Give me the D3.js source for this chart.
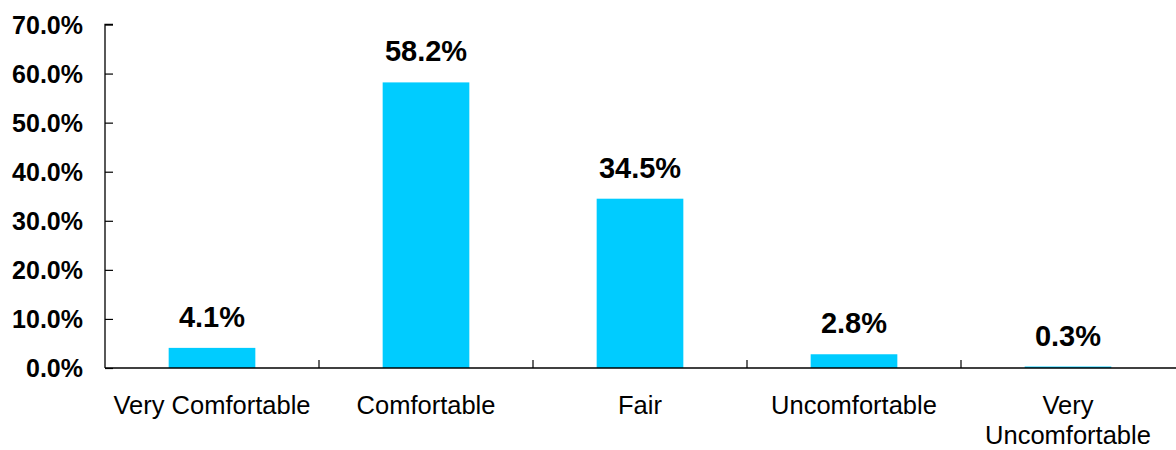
<!DOCTYPE html>
<html>
<head>
<meta charset="utf-8">
<script src="https://cdn.jsdelivr.net/npm/d3@7"></script>
<style>
  html, body { margin: 0; padding: 0; background: #fff; }
  svg { display: block; font-family: "Liberation Sans", Arial, Helvetica, sans-serif; }
</style>
</head>
<body>
<svg id="chart" width="1176" height="450"></svg>
<script>
const categories = ["Very Comfortable", "Comfortable", "Fair", "Uncomfortable", "Very\nUncomfortable"];
const values = [4.1, 58.2, 34.5, 2.8, 0.3];
const yTicks = [0, 10, 20, 30, 40, 50, 60, 70];

const svg = d3.select("#chart");
const margin = { left: 105, right: 1, top: 24.5, bottom: 82 };
const W = 1176, H = 450;

const x = d3.scaleBand()
  .domain(categories)
  .range([margin.left, W - margin.right])
  .paddingInner(0.595)
  .paddingOuter(0.2975);

const y = d3.scaleLinear().domain([0, 70]).range([368, margin.top]);

// bars
svg.append("g").selectAll("rect")
  .data(values)
  .join("rect")
  .attr("x", (d, i) => x(categories[i]))
  .attr("width", x.bandwidth())
  .attr("y", d => y(d))
  .attr("height", d => Math.max(y(0) - y(d), 1.5))
  .attr("fill", "#00CCFF");

// value labels
svg.append("g").selectAll("text")
  .data(values)
  .join("text")
  .attr("x", (d, i) => x(categories[i]) + x.bandwidth() / 2)
  .attr("y", d => y(d) - 21)
  .attr("text-anchor", "middle")
  .attr("font-size", 29)
  .attr("font-weight", "bold")
  .attr("fill", "#000")
  .text(d => d.toFixed(1) + "%");

// y axis
const yAxis = d3.axisRight(y)
  .tickValues(yTicks)
  .tickSize(8)
  .tickFormat(d => d.toFixed(1) + "%");
const gy = svg.append("g").attr("transform", `translate(${margin.left},0)`).call(yAxis);
gy.select(".domain").attr("stroke", "#000").attr("stroke-width", 1.3)
  .attr("d", `M${8},${y(70)}H0V${y(0)}`);
gy.selectAll(".tick line").attr("stroke", "#000").attr("stroke-width", 1.2);
gy.selectAll(".tick text")
  .attr("x", -22)
  .attr("dy", "0.35em")
  .attr("text-anchor", "end")
  .attr("font-size", 25)
  .attr("font-weight", "bold")
  .attr("font-family", "'Liberation Sans', Arial, sans-serif")
  .attr("fill", "#000");

// x axis baseline
const step = x.step();
const x0 = margin.left;
svg.append("line")
  .attr("x1", x0).attr("x2", W)
  .attr("y1", y(0)).attr("y2", y(0))
  .attr("stroke", "#000").attr("stroke-width", 1.5);

// category separator ticks
const sepIdx = d3.range(1, categories.length);
svg.append("g").selectAll("line")
  .data(sepIdx)
  .join("line")
  .attr("x1", i => x(categories[i]) - (step - x.bandwidth()) / 2)
  .attr("x2", i => x(categories[i]) - (step - x.bandwidth()) / 2)
  .attr("y1", y(0) - 8).attr("y2", y(0))
  .attr("stroke", "#000").attr("stroke-width", 1.2);

// category labels
const cl = svg.append("g").selectAll("text")
  .data(categories)
  .join("text")
  .attr("x", d => x(d) + x.bandwidth() / 2)
  .attr("y", 414)
  .attr("text-anchor", "middle")
  .attr("font-size", 25.5)
  .attr("fill", "#000");
cl.each(function(d) {
  const lines = d.split("\n");
  const t = d3.select(this);
  lines.forEach((ln, j) => {
    t.append("tspan")
      .attr("x", t.attr("x"))
      .attr("dy", j === 0 ? 0 : 30)
      .text(ln);
  });
});
</script>
</body>
</html>
